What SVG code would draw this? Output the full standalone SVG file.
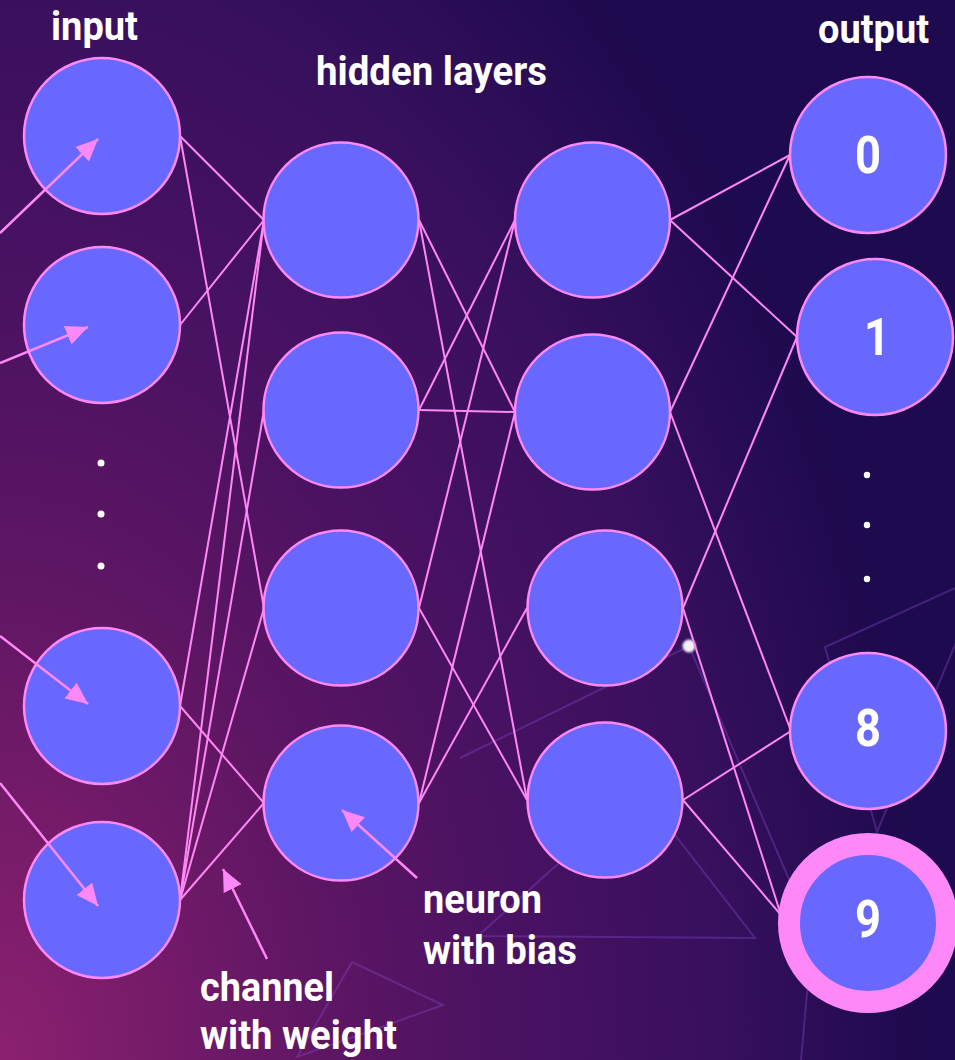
<svg xmlns="http://www.w3.org/2000/svg" width="955" height="1060" viewBox="0 0 955 1060">
  <defs>
    <radialGradient id="bg" gradientUnits="userSpaceOnUse" cx="0" cy="1060" r="1000" gradientTransform="translate(0 1060) scale(0.92 1.4) translate(0 -1060)">
      <stop offset="0" stop-color="#8c2070"/>
      <stop offset="0.35" stop-color="#5e1663"/>
      <stop offset="0.55" stop-color="#4a1262"/>
      <stop offset="0.78" stop-color="#38105e"/>
      <stop offset="1" stop-color="#1e0a4e"/>
    </radialGradient>
    <marker id="head" markerUnits="userSpaceOnUse" markerWidth="24" markerHeight="22" refX="22" refY="10" orient="auto">
      <path d="M0,0 L22,10 L0,20 z" fill="#ff88f8"/>
    </marker>
    <filter id="soft" x="-50%" y="-50%" width="200%" height="200%">
      <feGaussianBlur stdDeviation="0.8"/>
    </filter>
  </defs>
  <style>
    .node { fill: #6868ff; stroke: #ff88f8; stroke-width: 2.5; }
    .deco { fill: none; stroke: #8a4cd0; stroke-opacity: 0.35; stroke-width: 2; }
    .edge { stroke: #ff88f5; stroke-width: 2; fill: none; }
    .arrow { stroke: #ff88f8; stroke-width: 2.5; fill: none; marker-end: url(#head); }
    .label { font-family: Roboto, "Liberation Sans", sans-serif; font-weight: 700; font-size: 41px; fill: #ffffff; }
    .digit { font-family: Roboto, "Liberation Sans", sans-serif; font-weight: 700; font-size: 52px; fill: #ffffff; text-anchor: middle; }
    .dot { fill: #ffffff; }
  </style>

  <!-- backdrop -->
  <rect x="0" y="0" width="955" height="1060" fill="url(#bg)"/>

  <!-- faint geometric decoration -->
  <g id="decoration">
    <polyline class="deco" points="460,758 689,646 800,905"/>
    <polygon class="deco" points="478,936 755,938 640,790"/>
    <polygon class="deco" points="352,962 443,1005 297,1057"/>
    <polyline class="deco" points="962,585 825,647 877,832 962,628"/>
    <line class="deco" x1="810" y1="960" x2="801" y2="1060"/>
    <circle cx="689" cy="646" r="6.5" fill="#f4f0f8" filter="url(#soft)"/>
  </g>

  <!-- weighted channels -->
  <g id="connectors">
    <!-- input to first hidden layer -->
    <line class="edge" x1="180" y1="136" x2="264" y2="220"/>
    <line class="edge" x1="180" y1="136" x2="264" y2="608"/>
    <line class="edge" x1="180" y1="325" x2="264" y2="220"/>
    <line class="edge" x1="180" y1="706" x2="264" y2="220"/>
    <line class="edge" x1="180" y1="706" x2="264" y2="803"/>
    <line class="edge" x1="180" y1="900" x2="264" y2="220"/>
    <line class="edge" x1="180" y1="900" x2="264" y2="410"/>
    <line class="edge" x1="180" y1="900" x2="264" y2="608"/>
    <line class="edge" x1="180" y1="900" x2="264" y2="803"/>
    <!-- first to second hidden layer -->
    <line class="edge" x1="419" y1="220" x2="515" y2="412"/>
    <line class="edge" x1="419" y1="220" x2="527" y2="800"/>
    <line class="edge" x1="419" y1="410" x2="515" y2="220"/>
    <line class="edge" x1="419" y1="410" x2="515" y2="412"/>
    <line class="edge" x1="419" y1="608" x2="515" y2="220"/>
    <line class="edge" x1="419" y1="608" x2="527" y2="800"/>
    <line class="edge" x1="419" y1="803" x2="515" y2="412"/>
    <line class="edge" x1="419" y1="803" x2="527" y2="608"/>
    <!-- second hidden layer to output -->
    <line class="edge" x1="670" y1="220" x2="790" y2="155"/>
    <line class="edge" x1="670" y1="220" x2="797" y2="337"/>
    <line class="edge" x1="670" y1="412" x2="790" y2="155"/>
    <line class="edge" x1="670" y1="412" x2="791" y2="731"/>
    <line class="edge" x1="683" y1="608" x2="797" y2="337"/>
    <line class="edge" x1="683" y1="608" x2="781" y2="915"/>
    <line class="edge" x1="683" y1="800" x2="791" y2="731"/>
    <line class="edge" x1="683" y1="800" x2="781" y2="915"/>
  </g>

  <!-- input layer -->
  <g id="input-1"><circle class="node" cx="102" cy="136" r="78"/></g>
  <g id="input-2"><circle class="node" cx="102" cy="325" r="78"/></g>
  <g id="input-ellipsis">
    <circle class="dot" cx="101" cy="463" r="3.5"/>
    <circle class="dot" cx="101" cy="514" r="3.5"/>
    <circle class="dot" cx="101" cy="566" r="3.5"/>
  </g>
  <g id="input-3"><circle class="node" cx="102" cy="706" r="78"/></g>
  <g id="input-4"><circle class="node" cx="102" cy="900" r="78"/></g>

  <!-- first hidden layer -->
  <g id="hidden-1-a"><circle class="node" cx="341" cy="220" r="77.5"/></g>
  <g id="hidden-1-b"><circle class="node" cx="341" cy="410" r="77.5"/></g>
  <g id="hidden-1-c"><circle class="node" cx="341" cy="608" r="77.5"/></g>
  <g id="hidden-1-d"><circle class="node" cx="341" cy="803" r="77.5"/></g>

  <!-- second hidden layer -->
  <g id="hidden-2-a"><circle class="node" cx="592.5" cy="220" r="77.5"/></g>
  <g id="hidden-2-b"><circle class="node" cx="592.5" cy="412" r="77.5"/></g>
  <g id="hidden-2-c"><circle class="node" cx="605" cy="608" r="77.5"/></g>
  <g id="hidden-2-d"><circle class="node" cx="605" cy="800" r="77.5"/></g>

  <!-- output layer -->
  <g id="output-0">
    <circle class="node" cx="868" cy="155" r="78"/>
    <text class="digit" x="868" y="173" textLength="26" lengthAdjust="spacingAndGlyphs">0</text>
  </g>
  <g id="output-1">
    <circle class="node" cx="875" cy="337" r="78"/>
    <text class="digit" x="877" y="355" textLength="26" lengthAdjust="spacingAndGlyphs">1</text>
  </g>
  <g id="output-ellipsis">
    <circle class="dot" cx="867" cy="475" r="3.2"/>
    <circle class="dot" cx="867" cy="525" r="3.2"/>
    <circle class="dot" cx="867" cy="579" r="3.2"/>
  </g>
  <g id="output-8">
    <circle class="node" cx="868" cy="731" r="78"/>
    <text class="digit" x="868" y="746" textLength="26" lengthAdjust="spacingAndGlyphs">8</text>
  </g>
  <g id="output-9">
    <circle cx="868" cy="923" r="79" fill="#6868ff" stroke="#ff88f8" stroke-width="22"/>
    <text class="digit" x="868" y="937" textLength="26" lengthAdjust="spacingAndGlyphs">9</text>
  </g>

  <!-- incoming signals and annotation pointers -->
  <g id="pointers">
    <line class="arrow" x1="0" y1="233" x2="98" y2="139"/>
    <line class="arrow" x1="0" y1="363" x2="88" y2="327"/>
    <line class="arrow" x1="0" y1="636" x2="88" y2="704"/>
    <line class="arrow" x1="0" y1="783" x2="98" y2="906"/>
    <line class="arrow" x1="417" y1="878" x2="342" y2="810"/>
    <line class="arrow" x1="267" y1="959" x2="223" y2="869"/>
  </g>

  <!-- captions -->
  <g id="captions">
    <text class="label" x="51" y="40" textLength="87" lengthAdjust="spacingAndGlyphs">input</text>
    <text class="label" x="316" y="85" textLength="231" lengthAdjust="spacingAndGlyphs">hidden layers</text>
    <text class="label" x="818" y="43" textLength="111" lengthAdjust="spacingAndGlyphs">output</text>
    <text class="label" x="423" y="913" textLength="119" lengthAdjust="spacingAndGlyphs">neuron</text>
    <text class="label" x="423" y="964" textLength="154" lengthAdjust="spacingAndGlyphs">with bias</text>
    <text class="label" x="200" y="1001" textLength="134" lengthAdjust="spacingAndGlyphs">channel</text>
    <text class="label" x="200" y="1049" textLength="197" lengthAdjust="spacingAndGlyphs">with weight</text>
  </g>
</svg>
